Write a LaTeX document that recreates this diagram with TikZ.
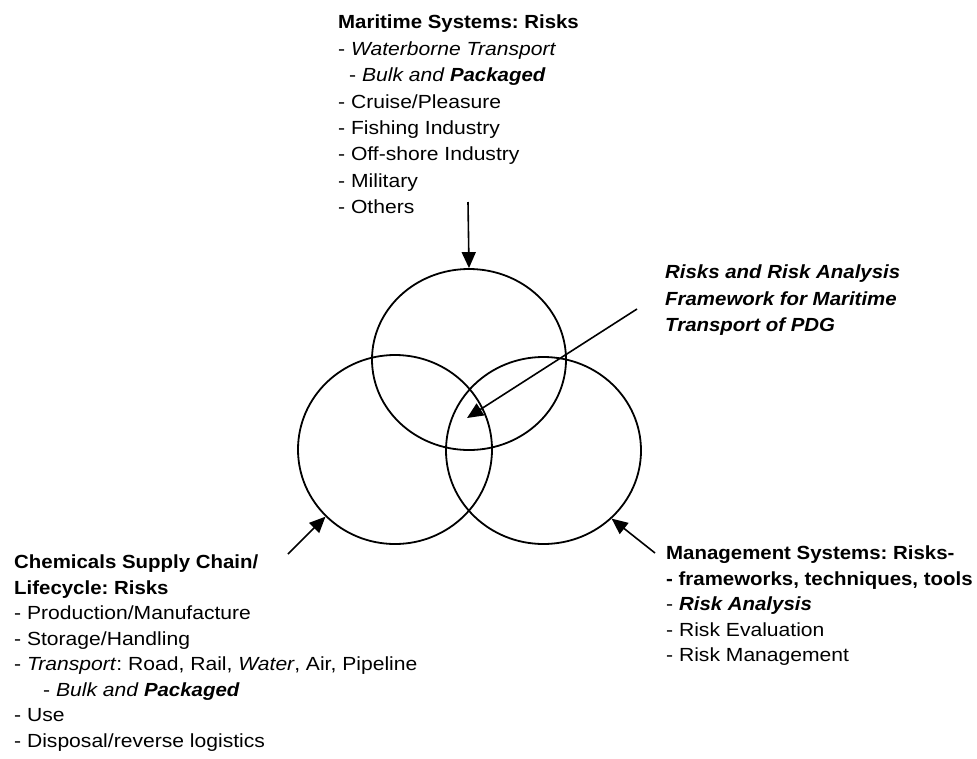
\documentclass[tikz,border=0pt]{standalone}
\usepackage{fontspec}
\setmainfont[FakeStretch=1.11,
  BoldFeatures={FakeStretch=1.075},
  BoldItalicFeatures={FakeStretch=1.075}]{Liberation Sans}
\usetikzlibrary{shapes.geometric,arrows.meta}
\frenchspacing
\begin{document}
\begin{tikzpicture}[x=1pt,y=-1pt,
  venn/.style={draw, ellipse, line width=1.8pt, inner sep=0pt},
  arr/.style={line width=1.6pt, -{Triangle[length=16pt,width=14pt]}},
  blk/.style={anchor=north west, inner sep=0pt, align=left},
  bodyA/.style={font=\fontsize{19}{26.4}\selectfont},
  bodyB/.style={font=\fontsize{19}{25.5}\selectfont}]
\useasboundingbox[fill=white] (0,0) rectangle (977,758);

\node[venn, minimum width=194pt, minimum height=181pt] (topc) at (469,359.5) {};
\node[venn, minimum width=194pt, minimum height=189pt] (leftc) at (395,449.5) {};
\node[venn, minimum width=195pt, minimum height=187pt] (rightc) at (543.5,450.5) {};

\node[blk, bodyA] (mar) at (338,15) {\textbf{Maritime Systems: Risks}\\
- \textit{Waterborne Transport}\\
\hspace*{11pt}- \textit{Bulk and \textbf{Packaged}}\\
- Cruise/Pleasure\\
- Fishing Industry\\
- Off-shore Industry\\
- Military\\
- Others};

\node[blk, bodyA] (fw) at (665,265) {\textbf{\textit{Risks and Risk Analysis}}\\
\textbf{\textit{Framework for Maritime}}\\
\textbf{\textit{Transport of PDG}}};

\node[blk, bodyB] (chem) at (14,555) {\textbf{Chemicals Supply Chain/}\\
\textbf{Lifecycle: Risks}\\
- Production/Manufacture\\
- Storage/Handling\\
- \textit{Transport}: Road, Rail, \textit{Water}, Air, Pipeline\\
\hspace*{29pt}- \textit{Bulk and \textbf{Packaged}}\\
- Use\\
- Disposal/reverse logistics};

\node[blk, bodyB] (mgmt) at (666,546) {\textbf{Management Systems: Risks-}\\
\textbf{- frameworks, techniques, tools}\\
- \textbf{\textit{Risk Analysis}}\\
- Risk Evaluation\\
- Risk Management};

\coordinate (t1) at (468,202);
\coordinate (c1) at (637,309);
\coordinate (c2) at (467,418);
\coordinate (l1) at (288,554);
\coordinate (r1) at (655,553);

\draw[arr] (t1) -- (topc.north);
\draw[arr] (c1) -- (c2);
\draw[arr] (l1) -- (leftc.224);
\draw[arr] (r1) -- (rightc.315);
\end{tikzpicture}
\end{document}
